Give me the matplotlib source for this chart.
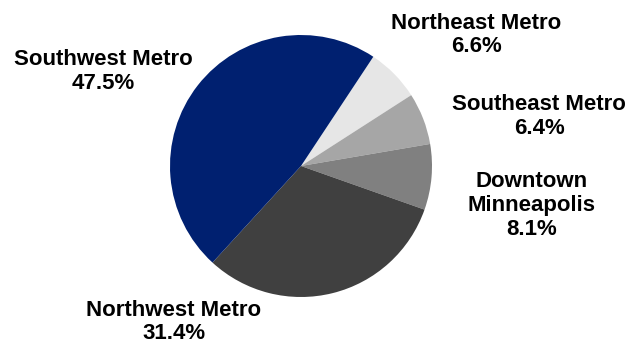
import matplotlib.pyplot as plt

plt.rcParams['font.family'] = ['Liberation Sans', 'DejaVu Sans']

# regional share, clockwise from the top
regions = ["Northeast Metro", "Southeast Metro", "Downtown\nMinneapolis",
           "Northwest Metro", "Southwest Metro"]
shares = [6.6, 6.4, 8.1, 31.4, 47.5]
colors = ["#e6e6e6", "#a6a6a6", "#808080", "#404040", "#002070"]

# where each label sits (pie radius = 1)
label_xy = [(1.34, 1.0), (1.82, 0.38), (1.76, -0.30), (-0.97, -1.19), (-1.51, 0.72)]

fig = plt.figure(figsize=(6.42, 3.43), dpi=100)
ax = fig.add_axes([(301 - 131) / 642, (177 - 131) / 343, 262 / 642, 262 / 343])

ax.pie(shares, colors=colors, startangle=56.5, counterclock=False, radius=1,
       wedgeprops=dict(linewidth=0))

for name, val, (x, y) in zip(regions, shares, label_xy):
    ax.text(x, y, f"{name}\n{val}%", ha="center", va="center", fontsize=16,
            fontweight="bold", linespacing=1.17, clip_on=False)

ax.set_xlim(-1, 1)
ax.set_ylim(-1, 1)
ax.set_aspect("equal")
ax.axis("off")

plt.savefig("out.png", dpi=100)
